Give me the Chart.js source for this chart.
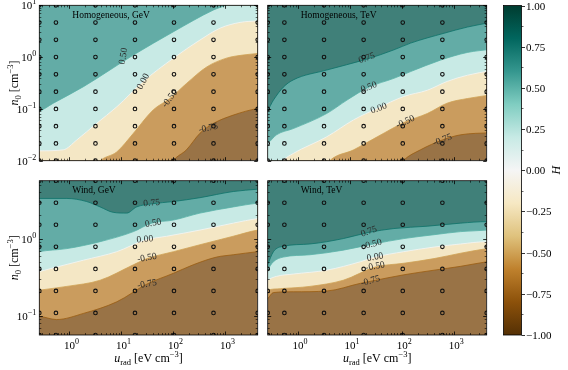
<!DOCTYPE html>
<html><head><meta charset="utf-8">
<script src="https://cdn.jsdelivr.net/npm/chart.js@4/dist/chart.umd.min.js"></script>
<style>
html,body{margin:0;padding:0;background:#fff;}
#wrap{position:relative;width:568px;height:370px;overflow:hidden;background:#fff;}
canvas{position:absolute;left:0;top:0;}
</style></head><body>
<div id="wrap">
<canvas id="p0" width="568" height="370"></canvas>
<canvas id="p1" width="568" height="370"></canvas>
<canvas id="p2" width="568" height="370"></canvas>
<canvas id="p3" width="568" height="370"></canvas>
<canvas id="cb" width="568" height="370"></canvas>
</div>
<script>
// ---------------- data (log10 values) ----------------
const uLim = [-0.58, 3.62];          // log10 u_rad axis limits
const nLimHom = [-2, 1];             // log10 n_0 limits, homogeneous panels
const nLimWind = [-1.25, 0.75];      // log10 n_0 limits, wind panels
const xTickExp = [0, 1, 2, 3];
const yTickExpHom = [-2, -1, 0, 1];
const yTickExpWind = [-1, 0];
const cbTicks = [1, 0.75, 0.5, 0.25, 0, -0.25, -0.5, -0.75, -1];
const levels = [-0.75, -0.5, 0, 0.5, 0.75];
const bandMid = [-0.875, -0.625, -0.25, 0.25, 0.625, 0.875];

// simulation grid (markers)
const gridU = [-0.58, -0.26, 0.5, 1.26, 2.01, 2.77, 3.62];
const gridNHom = [-2, -1.667, -1.333, -1, -0.667, -0.333, 0, 0.333, 0.667, 1];
const gridNWind = [-1.25, -0.964, -0.679, -0.393, -0.107, 0.179, 0.464, 0.75];

// contour lines [log10 u, log10 n]
const homGeV_m075 = [[-0.7,-2.4],[1.87,-2.24],[2.0,-2.0],[2.25,-1.79],[2.51,-1.47],[2.77,-1.28],[3.15,-1.12],[3.62,-0.99],[3.7,-0.98]];
const homGeV_m050 = [[-0.7,-2.4],[0.4,-2.24],[0.59,-2.0],[0.91,-1.83],[1.23,-1.47],[1.61,-1.02],[1.93,-0.8],[2.25,-0.51],[2.64,-0.19],[3.02,-0.02],[3.34,0.04],[3.62,0.07],[3.7,0.08]];
const homGeV_000 = [[-0.65,-1.81],[-0.59,-1.81],[-0.12,-1.79],[0.14,-1.6],[0.52,-1.28],[0.91,-0.96],[1.42,-0.47],[2.0,-0.02],[2.51,0.33],[2.9,0.56],[3.28,0.67],[3.62,0.7],[3.7,0.71]];
const homGeV_050 = [[-0.65,-1.06],[-0.59,-1.05],[-0.31,-0.89],[0.27,-0.57],[1.23,0.04],[2.0,0.49],[2.77,0.91],[3.02,1.01],[3.3,1.2],[3.7,1.4]];

const homTeV_m075 = [[-0.73,-2.5],[1.84,-2.24],[2.03,-1.99],[2.35,-1.79],[2.77,-1.6],[3.12,-1.5],[3.7,-1.46]];
const homTeV_m050 = [[-0.73,-2.5],[0.43,-2.24],[0.62,-1.99],[1.07,-1.79],[1.52,-1.54],[2.06,-1.25],[2.48,-1.09],[2.86,-0.89],[3.25,-0.8],[3.7,-0.73]];
const homTeV_000 = [[-0.73,-2.4],[-0.47,-2.24],[-0.28,-1.99],[-0.09,-1.86],[0.55,-1.54],[1.07,-1.21],[1.52,-0.99],[2.03,-0.76],[2.48,-0.64],[2.86,-0.47],[3.25,-0.35],[3.7,-0.26]];
const homTeV_050 = [[-0.73,-1.79],[-0.58,-1.67],[-0.41,-1.5],[-0.09,-1.38],[0.55,-1.09],[0.94,-0.83],[1.36,-0.58],[1.84,-0.41],[2.16,-0.28],[2.73,-0.06],[3.25,0.09],[3.7,0.15]];
const homTeV_075 = [[-0.73,-1.09],[-0.58,-1.02],[-0.47,-0.83],[-0.28,-0.58],[-0.09,-0.44],[0.55,-0.25],[1.32,-0.04],[1.84,0.14],[2.16,0.27],[2.8,0.46],[3.25,0.58],[3.7,0.67]];

const windGeV_m075 = [[-0.7,-1.01],[-0.59,-1.01],[-0.25,-1.05],[0.27,-0.97],[0.91,-0.82],[1.49,-0.59],[2.0,-0.45],[2.38,-0.34],[2.83,-0.24],[3.15,-0.21],[3.62,-0.17],[3.79,-0.16]];
const windGeV_m050 = [[-0.7,-0.68],[-0.59,-0.67],[-0.05,-0.62],[0.59,-0.54],[1.23,-0.34],[1.49,-0.26],[2.0,-0.17],[2.51,-0.08],[3.15,0.03],[3.62,0.11],[3.79,0.12]];
const windGeV_000 = [[-0.7,-0.44],[-0.59,-0.43],[-0.37,-0.39],[0.27,-0.28],[0.91,-0.17],[1.45,-0.02],[1.87,0.03],[2.51,0.11],[3.15,0.2],[3.62,0.26],[3.79,0.27]];
const windGeV_050 = [[-0.7,-0.19],[-0.59,-0.17],[-0.05,-0.13],[0.59,-0.04],[1.23,0.09],[1.58,0.2],[2.0,0.24],[2.51,0.33],[3.15,0.41],[3.62,0.46],[3.79,0.47]];
const windGeV_075 = [[-0.7,0.52],[-0.59,0.52],[-0.05,0.52],[0.33,0.48],[0.59,0.41],[0.84,0.34],[1.1,0.33],[1.29,0.41],[1.58,0.45],[2.0,0.48],[2.51,0.53],[3.15,0.61],[3.62,0.64],[3.79,0.65]];

const windTeV_m075 = [[-0.66,-0.84],[-0.58,-0.78],[-0.47,-0.7],[-0.09,-0.69],[0.55,-0.68],[1.2,-0.58],[1.42,-0.55],[2.03,-0.47],[2.61,-0.41],[3.12,-0.36],[3.63,-0.3],[3.76,-0.29]];
const windTeV_m050 = [[-0.66,-0.71],[-0.58,-0.67],[-0.34,-0.65],[0.23,-0.62],[0.87,-0.54],[1.48,-0.37],[2.03,-0.32],[2.61,-0.26],[3.12,-0.19],[3.63,-0.13],[3.76,-0.12]];
const windTeV_000 = [[-0.66,-0.6],[-0.58,-0.54],[-0.41,-0.49],[-0.09,-0.46],[0.55,-0.41],[1.2,-0.3],[1.48,-0.24],[2.03,-0.17],[2.61,-0.11],[3.12,-0.07],[3.63,-0.04],[3.76,-0.04]];
const windTeV_050 = [[-0.66,-0.54],[-0.58,-0.41],[-0.47,-0.3],[-0.28,-0.24],[0.23,-0.21],[0.87,-0.15],[1.45,-0.07],[2.03,0.0],[2.61,0.05],[3.12,0.09],[3.63,0.11],[3.76,0.12]];
const windTeV_075 = [[-0.66,-0.49],[-0.58,-0.34],[-0.47,-0.17],[-0.28,-0.1],[0.23,-0.07],[0.87,0.0],[1.36,0.08],[1.84,0.13],[2.48,0.16],[3.12,0.2],[3.63,0.22],[3.76,0.22]];

// contour labels [text, log10 u, log10 n, angle(deg)]
const labHomGeV = [['0.50',1.04,0.02,-80],['0.00',1.42,-0.47,-62],['-0.50',1.93,-0.8,-52],['-0.75',2.67,-1.37,-12]];
const labHomTeV = [['0.75',1.32,-0.02,-20],['0.50',1.36,-0.58,-20],['0.00',1.55,-0.99,-20],['-0.50',2.06,-1.25,-25],['-0.75',2.77,-1.6,-20]];
const labWindGeV = [['0.75',1.58,0.46,-5],['0.50',1.61,0.2,-10],['0.00',1.45,-0.01,-5],['-0.50',1.49,-0.25,-10],['-0.75',1.49,-0.59,-10]];
const labWindTeV = [['0.75',1.36,0.09,-20],['0.50',1.45,-0.07,-15],['0.00',1.48,-0.24,-10],['-0.50',1.48,-0.36,-10],['-0.75',1.39,-0.55,-15]];

// ---------------- styling helpers ----------------
const SERIF = '"Liberation Serif","DejaVu Serif",serif';
const BRBG = ['#543005','#8c510a','#bf812d','#dfc27d','#f6e8c3','#f5f5f5','#c7eae5','#80cdc1','#35978f','#01665e','#003c30'];
const hex = h => [1,3,5].map(i => parseInt(h.slice(i,i+2),16));
function cmap(v){ const t=(v+1)/2*10; const i=Math.max(0,Math.min(9,Math.floor(t))); const f=t-i;
  const a=hex(BRBG[i]), b=hex(BRBG[i+1]); return a.map((c,k)=>c+(b[k]-c)*f); }
const fillCol = v => 'rgb(' + cmap(v).map(c=>Math.round(0.75*c+0.25*255)).join(',') + ')';
const lineCol = v => 'rgb(' + cmap(v).map(c=>Math.round(c)).join(',') + ')';
const pt = p => ({x: Math.pow(10,p[0]), y: Math.pow(10,p[1])});

function drawRich(ctx, parts, x, y, align){
  let w=0; parts.forEach(p=>{ctx.font=(p.i?'italic ':'')+p.s+'px '+SERIF; p.w=ctx.measureText(p.t).width; w+=p.w;});
  let cx = align==='center'? x-w/2 : align==='right'? x-w : x;
  parts.forEach(p=>{ctx.font=(p.i?'italic ':'')+p.s+'px '+SERIF; ctx.fillText(p.t,cx,y+(p.dy||0)); cx+=p.w;});
}
function logTicks(lo, hi){
  const out=[]; for(let d=Math.floor(lo)-1; d<=Math.ceil(hi); d++) for(let m=1;m<=9;m++){
    const l=d+Math.log10(m); if(l>=lo-1e-9 && l<=hi+1e-9) out.push({v:Math.pow(10,l), major:m===1, e:d}); }
  return out;
}
const sup = e => (e<0?'\u2212':'')+Math.abs(e);

function panelPlugin(P){
  return { id:'deco',
    afterDatasetsDraw(chart){
      const ctx=chart.ctx, xs=chart.scales.x, ys=chart.scales.y, a=chart.chartArea;
      ctx.save();
      ctx.beginPath(); ctx.rect(a.left,a.top,a.right-a.left,a.bottom-a.top); ctx.clip();
      ctx.fillStyle='#2a2a2a'; ctx.font='9.5px '+SERIF; ctx.textAlign='center'; ctx.textBaseline='middle';
      P.labels.forEach(([t,lu,ln,ang])=>{
        const x=xs.getPixelForValue(Math.pow(10,lu)), y=ys.getPixelForValue(Math.pow(10,ln));
        ctx.save(); ctx.translate(x,y); ctx.rotate(ang*Math.PI/180); ctx.fillText(t,0,0); ctx.restore();
      });
      ctx.fillStyle='#000'; ctx.textAlign='left'; ctx.textBaseline='alphabetic'; ctx.font='9.5px '+SERIF;
      ctx.fillText(P.title, a.left+33, a.top+12.5);
      ctx.restore();

      // frame and inward ticks on all sides
      ctx.save(); ctx.strokeStyle='#000';
      const xt=logTicks(uLim[0],uLim[1]), yt=logTicks(P.nLim[0],P.nLim[1]);
      xt.forEach(t=>{ const x=Math.round(xs.getPixelForValue(t.v))+0.5; const L=t.major?3.5:2;
        ctx.lineWidth=t.major?0.8:0.6; ctx.beginPath(); ctx.moveTo(x,a.bottom); ctx.lineTo(x,a.bottom-L);
        ctx.moveTo(x,a.top); ctx.lineTo(x,a.top+L); ctx.stroke(); });
      yt.forEach(t=>{ const y=Math.round(ys.getPixelForValue(t.v))+0.5; const L=t.major?3.5:2;
        ctx.lineWidth=t.major?0.8:0.6; ctx.beginPath(); ctx.moveTo(a.left,y); ctx.lineTo(a.left+L,y);
        ctx.moveTo(a.right,y); ctx.lineTo(a.right-L,y); ctx.stroke(); });
      ctx.lineWidth=0.8; ctx.strokeRect(a.left,a.top,a.right-a.left,a.bottom-a.top);
      ctx.fillStyle='#000'; ctx.textBaseline='alphabetic';
      if(P.showY){
        P.yTicks.forEach(e=>{ const y=ys.getPixelForValue(Math.pow(10,e));
          drawRich(ctx,[{t:'10',s:11},{t:sup(e),s:8,dy:-5}],a.left-3,y+4,'right'); });
        const cy=(a.top+a.bottom)/2; ctx.save(); ctx.translate(14,cy); ctx.rotate(-Math.PI/2);
        drawRich(ctx,[{t:'n',s:12,i:1},{t:'0',s:8.5,dy:2.5},{t:' [cm',s:12},{t:'\u22123',s:8.5,dy:-5},{t:']',s:12}],0,4,'center');
        ctx.restore();
      }
      if(P.showX){
        xTickExp.forEach(e=>{ const x=xs.getPixelForValue(Math.pow(10,e));
          drawRich(ctx,[{t:'10',s:11},{t:sup(e),s:8,dy:-5}],x+2,a.bottom+14,'center'); });
        const cx=(a.left+a.right)/2;
        drawRich(ctx,[{t:'u',s:12,i:1},{t:'rad',s:8.5,dy:2.5},{t:' [eV cm',s:12},{t:'\u22123',s:8.5,dy:-5},{t:']',s:12}],cx,a.bottom+27,'center');
      }
      ctx.restore();
    }
  };
}

function makePanel(id, area, nLim, contours, labels, title, showX, showY, gridN, yTicks){
  const ds=[];
  ds.push({data:[pt([uLim[0],nLim[0]]),pt([uLim[1],nLim[0]])], fill:'end', backgroundColor:fillCol(bandMid[0]),
    borderWidth:0, pointRadius:0, order:20});
  contours.forEach((c,k)=>{ if(!c) return;
    ds.push({data:c.map(pt), fill:'end', backgroundColor:fillCol(bandMid[k+1]), borderColor:lineCol(levels[k]),
      borderWidth:0.8, pointRadius:0, cubicInterpolationMode:'monotone', order:19-k});
  });
  const marks=[]; gridU.forEach(u=>gridN.forEach(n=>marks.push(pt([u,n]))));
  ds.push({data:marks, showLine:false, pointRadius:1.8, pointBorderWidth:1.1, pointBackgroundColor:'rgba(0,0,0,0)',
    pointBorderColor:'#111', order:0});
  new Chart(document.getElementById(id), {
    type:'line', data:{datasets:ds},
    options:{responsive:false, animation:false, events:[],
      layout:{padding:{left:area[0], top:area[1], right:568-area[2], bottom:370-area[3]}},
      scales:{x:{type:'logarithmic', min:Math.pow(10,uLim[0]), max:Math.pow(10,uLim[1]), display:false},
              y:{type:'logarithmic', min:Math.pow(10,nLim[0]), max:Math.pow(10,nLim[1]), display:false}},
      plugins:{legend:{display:false}, tooltip:{enabled:false}}},
    plugins:[panelPlugin({labels, title, showX, showY, nLim, yTicks})]
  });
}

const L=39.3, R=257.7, L2=267.7, R2=486.7, T=5.3, B=160.7, T2=180.7, B2=335;
makePanel('p0',[L,T,R,B],nLimHom,[homGeV_m075,homGeV_m050,homGeV_000,homGeV_050,null],labHomGeV,'Homogeneous, GeV',false,true,gridNHom,yTickExpHom);
makePanel('p1',[L2,T,R2,B],nLimHom,[homTeV_m075,homTeV_m050,homTeV_000,homTeV_050,homTeV_075],labHomTeV,'Homogeneous, TeV',false,false,gridNHom,yTickExpHom);
makePanel('p2',[L,T2,R,B2],nLimWind,[windGeV_m075,windGeV_m050,windGeV_000,windGeV_050,windGeV_075],labWindGeV,'Wind, GeV',true,true,gridNWind,yTickExpWind);
makePanel('p3',[L2,T2,R2,B2],nLimWind,[windTeV_m075,windTeV_m050,windTeV_000,windTeV_050,windTeV_075],labWindTeV,'Wind, TeV',true,false,gridNWind,yTickExpWind);

// ---------------- colorbar ----------------
const cbPlugin = { id:'cbdeco', afterDraw(chart){
  const ctx=chart.ctx, ys=chart.scales.y, a=chart.chartArea;
  ctx.save(); ctx.strokeStyle='#000'; ctx.fillStyle='#000';
  ctx.lineWidth=0.8; ctx.strokeRect(a.left,a.top,a.right-a.left,a.bottom-a.top);
  ctx.font='11px '+SERIF; ctx.textBaseline='middle'; ctx.textAlign='left';
  cbTicks.forEach(v=>{ const y=Math.round(ys.getPixelForValue(v))+0.5;
    ctx.beginPath(); ctx.moveTo(a.right,y); ctx.lineTo(a.right+3.5,y); ctx.stroke();
    ctx.fillText((v<0?'\u2212':'')+Math.abs(v).toFixed(2), a.right+4.5, y+0.5); });
  for(let i=0;i<cbTicks.length-1;i++){ const v=(cbTicks[i]+cbTicks[i+1])/2; const y=Math.round(ys.getPixelForValue(v))+0.5;
    ctx.lineWidth=0.6; ctx.beginPath(); ctx.moveTo(a.right,y); ctx.lineTo(a.right+2,y); ctx.stroke(); }
  ctx.translate(557,(a.top+a.bottom)/2); ctx.rotate(-Math.PI/2);
  ctx.font='italic 12px '+SERIF; ctx.textAlign='center'; ctx.fillText('H',0,0);
  ctx.restore();
}};
new Chart(document.getElementById('cb'), {
  type:'bar',
  data:{labels:['H'], datasets:[{data:[[cbTicks[cbTicks.length-1], cbTicks[0]]], barPercentage:1, categoryPercentage:1, borderWidth:0,
    backgroundColor:(c)=>{ const ch=c.chart; if(!ch.chartArea) return '#888'; const y=ch.scales.y;
      const g=ch.ctx.createLinearGradient(0,y.getPixelForValue(-1),0,y.getPixelForValue(1));
      BRBG.forEach((h,i)=>g.addColorStop(i/10,h)); return g; }}]},
  options:{responsive:false, animation:false, events:[],
    layout:{padding:{left:503.5, right:568-521.5, top:5.5, bottom:35}},
    scales:{x:{display:false}, y:{display:false, min:-1, max:1}},
    plugins:{legend:{display:false}, tooltip:{enabled:false}}},
  plugins:[cbPlugin]
});
</script>
</body></html>
